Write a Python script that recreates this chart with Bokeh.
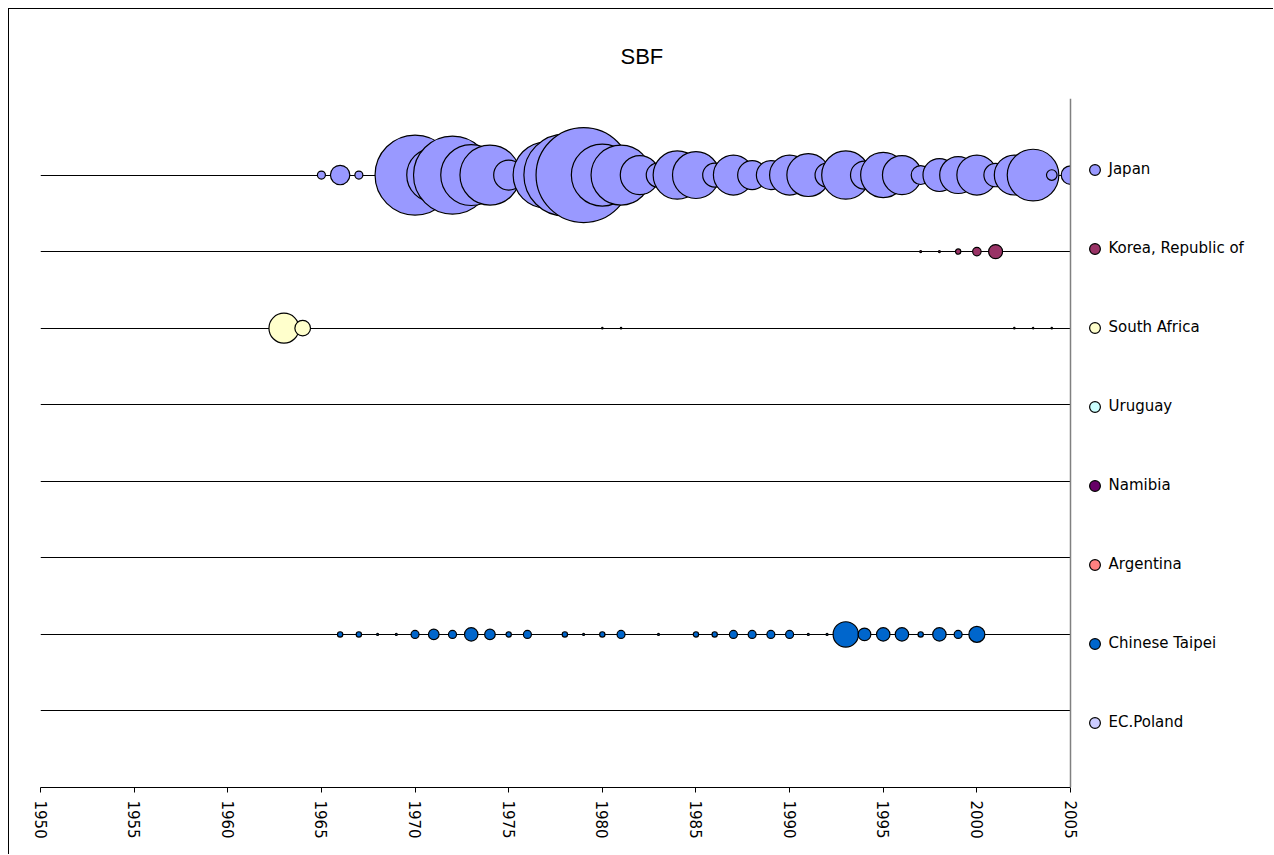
import math
from bokeh.plotting import figure
from bokeh.models import (FixedTicker, Grid, Legend, LegendItem, ColumnDataSource,
                          Span, Range1d, BoxAnnotation)
from bokeh.embed import file_html
from bokeh.resources import INLINE

# ---------------- data ----------------
countries = ["Japan", "Korea, Republic of", "South Africa", "Uruguay",
             "Namibia", "Argentina", "Chinese Taipei", "EC.Poland"]
colors = ["#9999FF", "#993366", "#FFFFCC", "#CCFFFF",
          "#660066", "#FF8080", "#0066CC", "#CCCCFF"]
row_levels = [8, 7, 6, 5, 4, 3, 2, 1]

japan_years = [1965, 1966, 1967, 1968, 1970, 1971, 1972, 1973, 1974, 1975,
               1976, 1977, 1978, 1979, 1980, 1981, 1982, 1983, 1984, 1985,
               1986, 1987, 1988, 1989, 1990, 1991, 1992, 1993, 1994, 1995,
               1996, 1997, 1998, 1999, 2000, 2001, 2002, 2003, 2004, 2005]
japan_values = [1.6, 9.4, 1.6, 0.1, 160, 73, 152, 93, 90, 22.5,
                14, 109, 168, 226, 96, 90, 38, 15, 58, 55,
                14.4, 40, 21, 21, 40, 46, 14.4, 58, 19.6, 51,
                38, 9, 27, 34, 40, 13.7, 40, 66.6, 2.8, 8.6]

korea_years = [1997, 1998, 1999, 2000, 2001]
korea_values = [0.1, 0.1, 0.7, 1.8, 4.9]

safrica_years = [1963, 1964, 1980, 1981, 2002, 2003, 2004]
safrica_values = [22.5, 6.1, 0.05, 0.05, 0.05, 0.05, 0.05]

uruguay_years, uruguay_values = [], []
namibia_years, namibia_values = [], []
argentina_years, argentina_values = [], []

taipei_years = [1966, 1967, 1968, 1969, 1970, 1971, 1972, 1973, 1974, 1975,
                1976, 1978, 1979, 1980, 1981, 1983, 1985, 1986, 1987, 1988,
                1989, 1990, 1991, 1992, 1993, 1994, 1995, 1996, 1997, 1998,
                1999, 2000]
taipei_values = [0.7, 0.7, 0.1, 0.1, 1.6, 2.8, 1.6, 4.5, 2.8, 0.7,
                 1.6, 0.7, 0.1, 0.7, 1.6, 0.1, 0.7, 0.7, 1.6, 1.6,
                 1.6, 1.6, 0.1, 0.1, 16, 4, 4.5, 4.5, 0.7, 4.5,
                 1.6, 6.4]

poland_years, poland_values = [], []

series_years = [japan_years, korea_years, safrica_years, uruguay_years,
                namibia_years, argentina_years, taipei_years, poland_years]
series_values = [japan_values, korea_values, safrica_values, uruguay_values,
                 namibia_values, argentina_values, taipei_values, poland_values]

x_ticks = list(range(1950, 2006, 5))
X_START, X_END = 1950, 2005
BUBBLE_SCALE = 2 * math.sqrt(10)   # bubble area proportional to value

# ---------------- layout ----------------
FONT = "DejaVu Sans"
W, H = 1265, 846
ML, MT, MB = 31, 89, 68
PLOT_W = 1030                      # pixels from 1950 to 2005
frame_w = W - ML
x_view_end = X_START + (X_END - X_START) * frame_w / PLOT_W

p = figure(width=W, height=H, x_range=Range1d(X_START, x_view_end),
           y_range=Range1d(0, 9), output_backend="svg", toolbar_location=None,
           y_axis_location=None, min_border_left=ML, min_border_top=MT,
           min_border_right=0, min_border_bottom=MB, title="SBF",
           margin=(8, 0, 0, 8))
p.styles = {"border-top": "1px solid #000", "border-left": "1px solid #000"}

p.title.text_font = "Liberation Sans"
p.title.text_font_size = "22px"
p.title.text_font_style = "normal"
p.title.text_color = "#000000"
p.title.align = "left"
p.title.offset = 580
p.title.standoff = 60

p.outline_line_color = None
p.background_fill_color = "white"
p.border_fill_color = "white"

# grids
p.center = [r for r in p.center if not isinstance(r, Grid)]
p.add_layout(Grid(dimension=1, ticker=FixedTicker(ticks=list(range(1, 10))),
                  grid_line_color="#000000", grid_line_width=1))

# x axis
p.xaxis.ticker = FixedTicker(ticks=x_ticks)
p.xaxis.bounds = (X_START, X_END)
p.xaxis.major_label_orientation = "vertical"
p.xaxis.major_tick_out = 5
p.xaxis.major_tick_in = 0
p.xaxis.minor_tick_out = 0
p.xaxis.minor_tick_in = 0
p.xaxis.axis_line_color = "#000000"
p.xaxis.major_tick_line_color = "#000000"
p.xaxis.major_label_standoff = 8
p.xaxis.major_label_text_font = FONT
p.xaxis.major_label_text_font_size = "15px"
p.xaxis.major_label_text_color = "#000000"

items = []
for name, col, lvl, yrs, vals in zip(countries, colors, row_levels,
                                     series_years, series_values):
    if yrs:
        data = dict(x=yrs, y=[lvl] * len(yrs),
                    size=[BUBBLE_SCALE * math.sqrt(v) for v in vals])
    else:   # no data: placeholder so the legend still shows the marker
        data = dict(x=[float("nan")], y=[float("nan")], size=[0])
    src = ColumnDataSource(data)
    r = p.scatter("x", "y", size="size", source=src, marker="circle",
                  fill_color=col, line_color="#000000", line_width=1.2)
    items.append(LegendItem(label=name, renderers=[r]))

# blank out everything right of the plot area (clips the 2005 bubble)
p.add_layout(BoxAnnotation(left=X_END, fill_color="white", fill_alpha=1,
                           line_color=None))
p.add_layout(Span(location=X_END, dimension="height", line_color="#808080",
                  line_width=1.5))

legend = Legend(items=items, location=(1040.5, 51.5), orientation="vertical",
                glyph_width=27, glyph_height=27, label_height=27, spacing=52,
                padding=0, margin=0, border_line_color=None,
                background_fill_alpha=0, label_text_font=FONT,
                label_text_font_size="15px", label_text_color="#000000",
                label_standoff=1)
p.add_layout(legend, "center")

open("out.html", "w").write(file_html(p, INLINE))
